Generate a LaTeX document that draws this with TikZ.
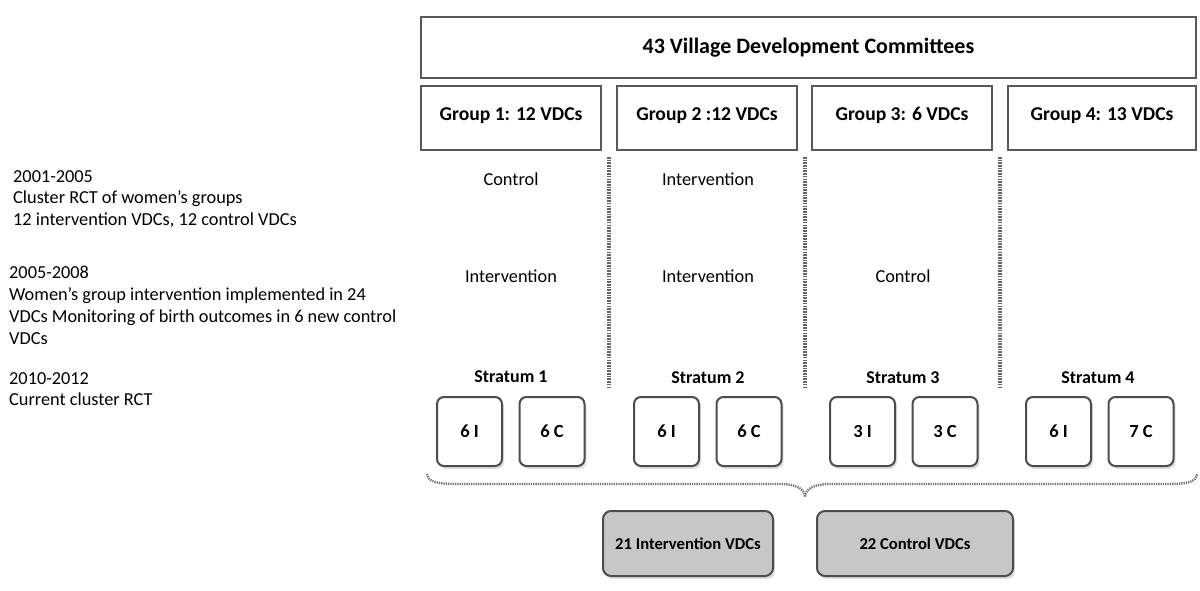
\documentclass[tikz,border=0pt]{standalone}
\usepackage{fontspec}
\setmainfont{Carlito}
\usetikzlibrary{shadows}
\begin{document}
\begin{tikzpicture}[x=1pt,y=-1pt,
  sqbox/.style={draw=black!65,line width=1.3pt,minimum height=64pt,inner sep=0pt,text height=0.72em,text depth=0.22em,font=\fontsize{19.6}{22}\selectfont\bfseries},
  smallbox/.style={draw=black!70,line width=2pt,rounded corners=7pt,fill=white,minimum width=65pt,minimum height=69pt,inner sep=0pt,font=\fontsize{18.5}{20}\selectfont\bfseries,drop shadow={opacity=0.25,shadow xshift=2pt,shadow yshift=-3pt}},
  resbox/.style={draw=black!70,line width=2pt,rounded corners=8pt,fill=black!22,minimum height=65pt,inner sep=0pt,font=\fontsize{16.6}{19}\selectfont\bfseries,drop shadow={opacity=0.25,shadow xshift=2pt,shadow yshift=-3pt}},
  lbl/.style={font=\fontsize{18.3}{21}\selectfont,inner sep=0pt},
  strat/.style={font=\fontsize{18}{20}\selectfont\bfseries,inner sep=0pt},
  sep/.style={draw=black!60,line width=3.5pt,dash pattern=on 1.6pt off 1.1pt},
  side/.style={font=\fontsize{18.3}{21.8}\selectfont,inner sep=0pt,anchor=north west,align=left}]
\useasboundingbox (0,0) rectangle (1200,591);
% top
\node[draw=black!65,line width=1.3pt,minimum width=775pt,minimum height=61pt,inner sep=0pt,font=\fontsize{22}{24}\selectfont\bfseries] (vdc) at (808.5,47.5) {43 Village Development Committees};
\node[sqbox,minimum width=180pt] (g1) at (511,118) {Group 1: 12 VDCs};
\node[sqbox,minimum width=180pt] (g2) at (707,118) {Group 2 :12 VDCs};
\node[sqbox,minimum width=180pt] (g3) at (902,118) {Group 3: 6 VDCs};
\node[sqbox,minimum width=188pt] (g4) at (1102,118) {Group 4: 13 VDCs};
% separators
\coordinate (s1a) at (609,157); \coordinate (s1b) at (609,388);
\coordinate (s2a) at (805,157); \coordinate (s2b) at (805,388);
\coordinate (s3a) at (1000,157); \coordinate (s3b) at (1000,388);
\draw[sep] (s1a) -- (s1b);
\draw[sep] (s2a) -- (s2b);
\draw[sep] (s3a) -- (s3b);
% period labels
\node[lbl] (c1a) at (511,179) {Control};
\node[lbl] (c2a) at (708,179) {Intervention};
\node[lbl] (c1b) at (511,276) {Intervention};
\node[lbl] (c2b) at (708,276) {Intervention};
\node[lbl] (c3b) at (903,276) {Control};
% strata
\node[strat] (st1) at (511,377) {Stratum 1};
\node[strat] (st2) at (708,378) {Stratum 2};
\node[strat] (st3) at (903,378) {Stratum 3};
\node[strat] (st4) at (1098,378) {Stratum 4};
\node[smallbox] (i1) at (469.5,431.5) {6 I};
\node[smallbox] (k1) at (552,431.5) {6 C};
\node[smallbox] (i2) at (666.5,431.5) {6 I};
\node[smallbox] (k2) at (749,431.5) {6 C};
\node[smallbox] (i3) at (862.5,431.5) {3 I};
\node[smallbox] (k3) at (945,431.5) {3 C};
\node[smallbox] (i4) at (1058.5,431.5) {6 I};
\node[smallbox] (k4) at (1141,431.5) {7 C};
% brace
\coordinate (bl) at (427,474);
\coordinate (bm) at (805,497);
\coordinate (br) at (1197,474);
\draw[draw=black!55,line width=2.4pt,dash pattern=on 1.3pt off 1pt]
  (bl) .. controls (428,482) and (436,484) .. (460,484) -- (778,484)
  .. controls (798,484) and (804,489) .. (bm)
  .. controls (806,489) and (812,484) .. (832,484) -- (1165,484)
  .. controls (1189,484) and (1196,482) .. (br);
% results
\node[resbox,minimum width=170pt] (ri) at (688,543.5) {21 Intervention VDCs};
\node[resbox,minimum width=196pt] (rc) at (915,543.5) {22 Control VDCs};
% side text
\node[side] (p1) at (13,170) {2001-2005\\Cluster RCT of women’s groups\\12 intervention VDCs, 12 control VDCs};
\node[side] (p2) at (9,266) {2005-2008\\Women’s group intervention implemented in 24\\VDCs Monitoring of birth outcomes in 6 new control\\VDCs};
\node[side] (p3) at (9,372) {2010-2012\\Current cluster RCT};
\end{tikzpicture}
\end{document}
